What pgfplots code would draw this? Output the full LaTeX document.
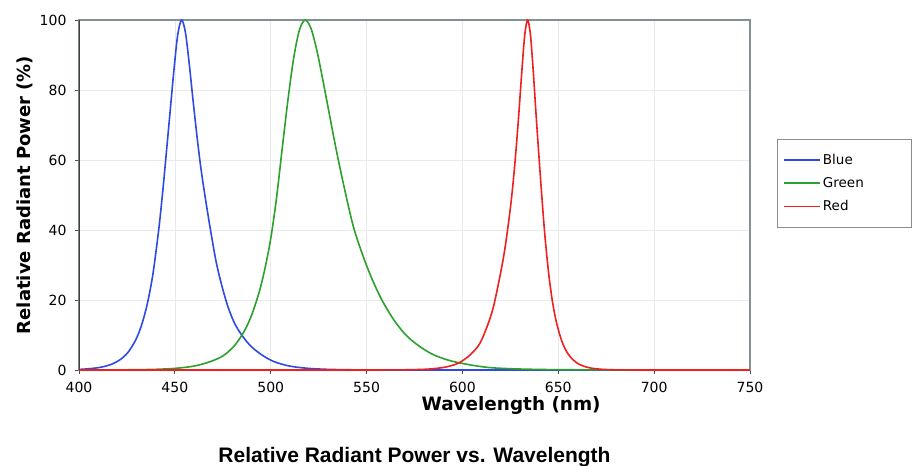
\documentclass[border=0pt]{standalone}
\usepackage{fontspec}
\setmainfont{DejaVu Sans}
\newfontfamily\arialfont{Liberation Sans}
\usepackage{pgfplots}
\pgfplotsset{compat=1.18}
\definecolor{ledblue}{RGB}{45,75,225}
\definecolor{ledgreen}{RGB}{45,160,45}
\definecolor{ledred}{RGB}{238,32,32}
\definecolor{framegray}{RGB}{130,145,145}
\definecolor{gridgray}{RGB}{232,234,236}

\begin{document}
\begin{tikzpicture}
\useasboundingbox (-79pt,-96pt) rectangle (835pt,370pt);
\begin{axis}[
    scale only axis,
    width=671pt, height=350pt,
    xmin=400, xmax=750, ymin=0, ymax=100,
    xtick={400,450,...,750}, ytick={0,20,...,100},
    xtick pos=left, ytick pos=left,
    grid=major, grid style={gridgray, line width=0.7pt},
    axis line style={framegray, line width=1.6pt},
    tick align=outside, major tick length=4pt,
    tick style={black!70, line width=0.8pt},
    ticklabel style={font=\fontsize{14}{16}\selectfont},
    xticklabel style={yshift=-5pt},
    yticklabel style={xshift=-5pt},
    /pgf/number format/assume math mode=true,
    /pgf/number format/1000 sep={},
    xlabel={Wavelength (nm)},
    xlabel style={font=\bfseries\fontsize{18.4}{20}\selectfont, at={(axis description cs:0.644,-0.1)}, anchor=center},
    ylabel={Relative Radiant Power (\%)},
    ylabel style={font=\bfseries\fontsize{18}{20}\selectfont, at={(axis description cs:-0.0805,0.5)}, anchor=center},
    title={Relative Radiant Power vs. Wavelength},
    title style={font=\arialfont\bfseries\fontsize{21}{23}\selectfont, at={(axis description cs:0.5,-0.266)}, anchor=center, yshift=0pt},
    legend style={at={(axis description cs:1.040,0.66)}, anchor=north west,
        draw=black!45, line width=0.6pt, font=\fontsize{13.5}{15}\selectfont,
        cells={anchor=west}, row sep=7.5pt, inner xsep=6pt, inner ysep=13pt},
    legend image code/.code={\draw[#1, line width=1.8pt] (0pt,0pt) -- (36pt,0pt);},
    every axis plot/.append style={line width=1.6pt, smooth},
]
\addplot[ledblue] coordinates {
(400,0.18) (403.5,0.28) (410.5,0.70) (416.5,1.54) (421.5,2.97) (425.5,5.0)
(429.5,8.5) (432.5,12.6) (435.5,18.6) (438.5,27.2) (441.5,39.7) (443.5,50)
(445.5,61.7) (447.5,73.7) (449.5,85.6) (451.5,95.8) (453.5,100) (455.5,96.5)
(457.5,87.5) (459.5,77) (461.5,67) (463.5,58) (465.5,50.5) (468.5,40.3)
(471.5,31) (474.5,24.1) (477.5,18.4) (480.5,14.1) (483.5,11.1) (487.5,8.1)
(491.5,5.9) (496.5,3.9) (501.5,2.45) (507.5,1.41) (513.5,0.81) (521.5,0.39)
(531.5,0.16) (543.5,0.05) (563.5,0.01) (600,0) (750,0)
};
\addlegendentry{\makebox[80pt][l]{Blue}}
\addplot[ledgreen] coordinates {
(400,0.006) (420,0.03) (438,0.16) (450,0.46) (460,1.12) (468,2.3) (475,4.0)
(481,6.9) (486,10.9) (490,15.6) (494,22.3) (497,29.0) (500,37.5) (503,49.0)
(506,63.3) (509,77.2) (512,89.2) (515,97.2) (518,100) (521,97.6) (524,91.5)
(527,83.4) (530,74.8) (534,63.4) (538,53) (543,41.2) (548,32.8) (553,25.8)
(558,20.0) (564,14.5) (570,10.3) (576,7.4) (584,4.6) (593,2.75) (603,1.56)
(614,0.7) (628,0.31) (648,0.1) (678,0.02) (750,0)
};
\addlegendentry{\makebox[80pt][l]{Green}}
\addplot[ledred] coordinates {
(400,0) (514,0) (554,0.01) (570,0.055) (582,0.25) (591,0.81) (598,1.98)
(604,4.3) (609,7.5) (613,12.6) (616,17.7) (619,25.2) (622,34.1) (625,46.2)
(627,56.8) (629,70.1) (631,85.4) (632.5,95.7) (634,100) (635.5,95.7)
(637,84.9) (638.5,72.3) (640,60.4) (641.5,49) (643,38.5) (645,27.5)
(647,19.4) (649,13.7) (651.5,8.8) (654,5.6) (657,3.3) (661,1.6) (666,0.66)
(672,0.23) (680,0.05) (694,0.01) (750,0)
};
\addlegendentry{\makebox[80pt][l]{Red}}
\draw[black!75, line width=1.4pt] (rel axis cs:0,0) -- (rel axis cs:0,1);
\end{axis}
\end{tikzpicture}
\end{document}
